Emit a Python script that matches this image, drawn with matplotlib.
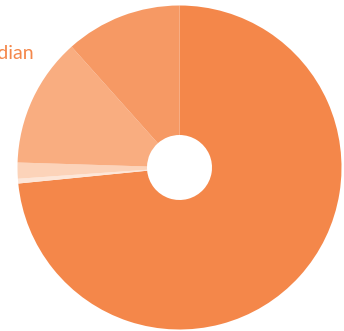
import matplotlib
matplotlib.use("Agg")
import matplotlib.pyplot as plt

# Share of each group, clockwise from 12 o'clock
labels = ["Main", "Other A", "Other B", "Indian", "Other C"]
shares = [73.4, 0.47, 1.6, 12.9, 11.6]
colors = ["#F4874A", "#FDE6D8", "#FCD3B9", "#F9AD80", "#F69964"]

W, H = 344, 331
fig = plt.figure(figsize=(W / 100, H / 100), dpi=100)
ax = fig.add_axes([0, 0, 1, 1])

cx, cy, r_out, r_in = 179.5, 167.5, 162, 32.5
ax.pie(shares, colors=colors, startangle=90, counterclock=False,
       center=(cx, -cy), radius=r_out, frame=True,
       wedgeprops=dict(width=r_out - r_in, linewidth=0))

ax.text(34, -59, "Indian", ha="right", va="baseline", color="#F4874A",
        fontsize=14, family=["Lato", "DejaVu Sans"])

ax.set_xlim(0, W)
ax.set_ylim(-H, 0)
ax.set_aspect("equal")
ax.axis("off")
fig.savefig("out.png", dpi=100)
